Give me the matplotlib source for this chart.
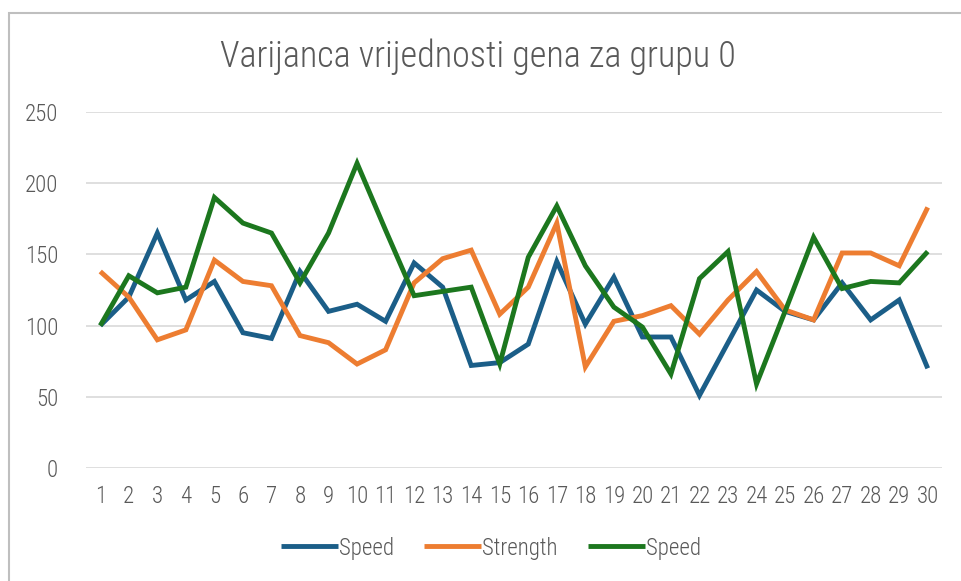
import matplotlib
matplotlib.use("Agg")
import matplotlib.pyplot as plt
from matplotlib.patches import Rectangle

x_labels = list(range(1, 31))
speed_blue = [100, 120, 165, 118, 131, 95, 91, 138, 110, 115, 103, 144, 127, 72, 74, 87, 145, 101, 134, 92,
              92, 51, 88, 125, 110, 104, 130, 104, 118, 70]
strength = [138, 120, 90, 97, 146, 131, 128, 93, 88, 73, 83, 130, 147, 153, 108, 127, 172, 71, 103, 107,
            114, 94, 118, 138, 111, 104, 151, 151, 142, 183]
speed_green = [100, 135, 123, 127, 190, 172, 165, 130, 165, 214, 167, 121, 124, 127, 73, 148, 184, 142, 113, 99,
               66, 133, 152, 59, 110, 162, 126, 131, 130, 152]
series_names = ["Speed", "Strength", "Speed"]
title = "Varijanca vrijednosti gena za grupu 0"

plt.rcParams['font.family'] = ["Roboto Condensed", "Archivo Narrow", "Liberation Sans", "DejaVu Sans"]

fig = plt.figure(figsize=(9.62, 5.81), dpi=100)
fig.patches.append(Rectangle((9/962, -0.1), 1.2, 1 - 13/581 + 0.1, transform=fig.transFigure,
                             fill=False, edgecolor="#bfbfbf", linewidth=1.5))
ax = fig.add_axes([86/962, 1 - 468/581, (942-86)/962, (468-112)/581])

colors = ["#1b5e88", "#ed7d31", "#1c771e"]
for vals, c, n in zip([speed_blue, strength, speed_green], colors, series_names):
    ax.plot(x_labels, vals, color=c, linewidth=3.5, label=n, solid_joinstyle="miter", solid_capstyle="butt")

ax.set_xlim(0.5, 30.5)
ax.set_ylim(0, 250)
ax.set_yticks([0, 50, 100, 150, 200, 250])
ax.set_xticks(x_labels)
ax.grid(axis="y", color="#d9d9d9", linewidth=1.2)
ax.set_axisbelow(True)
for s in ax.spines.values():
    s.set_visible(False)
ax.tick_params(length=0, labelsize=16.5, colors="#595959")
ax.tick_params(axis="x", pad=12)
ax.tick_params(axis="y", pad=20)
for lbl in ax.get_xticklabels() + ax.get_yticklabels():
    lbl.set_fontweight("light")

fig.text(478/962, 1 - 57/581, title, ha="center", va="center", fontsize=26, color="#595959",
         fontweight="light")

leg = fig.legend(loc="center", bbox_to_anchor=(491/962, 1 - 548/581), ncol=3, frameon=False,
                 prop={"size": 16.5, "weight": "light"},
                 handlelength=2.5, handletextpad=0.05, columnspacing=1.3)
for t in leg.get_texts():
    t.set_color("#595959")

fig.savefig("out.png", dpi=100)
